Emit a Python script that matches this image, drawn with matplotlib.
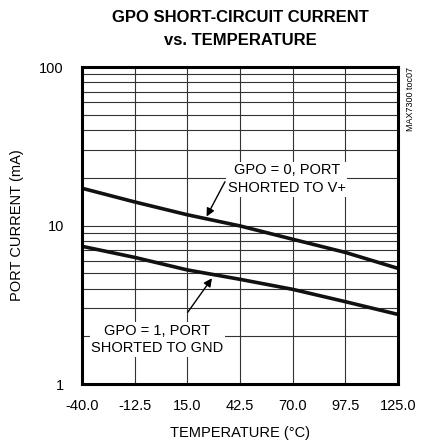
import matplotlib
matplotlib.use('agg')
import matplotlib.pyplot as plt
from matplotlib.ticker import FixedLocator, NullFormatter

plt.rcParams['font.family'] = ['Liberation Sans', 'DejaVu Sans']

temp = [-40.0, -12.5, 15.0, 42.5, 70.0, 97.5, 125.0]
i_vplus = [17.2, 14.1, 11.7, 9.95, 8.2, 6.77, 5.37]
i_gnd = [7.4, 6.3, 5.25, 4.58, 3.96, 3.31, 2.75]

xticks = [-40.0, -12.5, 15.0, 42.5, 70.0, 97.5, 125.0]
xticklabels = ["-40.0", "-12.5", "15.0", "42.5", "70.0", "97.5", "125.0"]
yticks = [1, 10, 100]
yticklabels = ["1", "10", "100"]

fig = plt.figure(figsize=(4.22, 4.44), dpi=100)
ax = fig.add_axes([0.194, 0.135, 0.749, 0.714])

ax.set_yscale("log")
ax.set_xlim(-40, 125)
ax.set_ylim(1, 100)

minor = [m * d for d in (1, 10) for m in range(2, 10)]
ax.yaxis.set_major_locator(FixedLocator(yticks))
ax.yaxis.set_minor_locator(FixedLocator(minor))
ax.yaxis.set_minor_formatter(NullFormatter())
ax.set_yticks(yticks)
ax.set_yticklabels(yticklabels)
ax.set_xticks(xticks)
ax.set_xticklabels(xticklabels)
ax.tick_params(axis="both", which="both", length=0, labelsize=10.5)
ax.tick_params(axis="y", pad=13)
ax.tick_params(axis="x", pad=11)

ax.grid(True, which="both", axis="both", color="#333333", linewidth=0.8)
ax.set_axisbelow(True)
for s in ax.spines.values():
    s.set_linewidth(2.2)
    s.set_zorder(5)

ax.plot(temp, i_vplus, color="#111111", linewidth=2.6, zorder=4)
ax.plot(temp, i_gnd, color="#111111", linewidth=2.6, zorder=4)

box = dict(facecolor="white", edgecolor="none", pad=1.0)
ax.text(67, 19.6, "GPO = 0, PORT\nSHORTED TO V+", ha="center", va="center",
        fontsize=10.5, linespacing=1.35, bbox=box, zorder=3)
ax.text(-0.6, 1.91, "GPO = 1, PORT\nSHORTED TO GND", ha="center", va="center",
        fontsize=10.5, linespacing=1.35, bbox=box, zorder=3)
ax.annotate("", xy=(25.1, 11.4), xytext=(34.7, 18.9),
            arrowprops=dict(arrowstyle="-|>", color="black", lw=1.0,
                            mutation_scale=12, shrinkA=0, shrinkB=0), zorder=4)
ax.annotate("", xy=(27.9, 4.65), xytext=(15.3, 2.84),
            arrowprops=dict(arrowstyle="-|>", color="black", lw=1.0,
                            mutation_scale=12, shrinkA=0, shrinkB=0), zorder=4)

ax.set_xlabel("TEMPERATURE (°C)", fontsize=10.5, labelpad=9)
ax.set_ylabel("PORT CURRENT (mA)", fontsize=10.5, labelpad=11)

fig.text(0.569, 0.977, "GPO SHORT-CIRCUIT CURRENT\nvs. TEMPERATURE", ha="center",
         va="top", fontsize=12, fontweight="bold", linespacing=1.65)
fig.text(0.963, 0.848, "MAX7300 toc07", rotation=90, ha="left", va="top",
         fontsize=6.5)

fig.savefig("out.png", dpi=100)
